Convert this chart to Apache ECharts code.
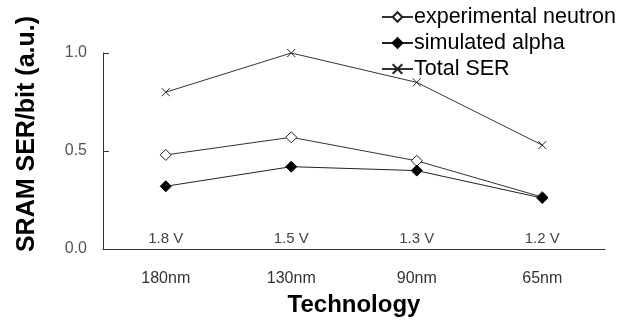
<!DOCTYPE html>
<html><head><meta charset="utf-8">
<script src="https://cdn.jsdelivr.net/npm/echarts@6/dist/echarts.min.js"></script>
<style>html,body{margin:0;padding:0;background:#fff}#c{width:618px;height:324px}</style>
</head><body><div id="c"></div>
<script>
const categories = ['180nm', '130nm', '90nm', '65nm'];
const voltages = ['1.8 V', '1.5 V', '1.3 V', '1.2 V'];
const neutron = [0.48, 0.57, 0.45, 0.265];
const alpha = [0.32, 0.42, 0.40, 0.26];
const total = [0.80, 1.00, 0.85, 0.53];
const yTicks = [0, 0.5, 1.0];

const font = 'Arial, "Liberation Sans", sans-serif';
const cross = 'path://M0,0L10,10M10,0L0,10';
const chart = echarts.init(document.getElementById('c'));
chart.setOption({
  animation: false,
  backgroundColor: '#fff',
  grid: { left: 103, right: 13, top: 53, bottom: 75 },
  legend: {
    orient: 'vertical', left: 381, top: 6, itemGap: 4,
    itemWidth: 31, itemHeight: 12, padding: 0,
    textStyle: { fontFamily: font, fontSize: 21.5, color: '#000', padding: [0, 0, 0, -4], lineHeight: 22 },
    data: ['experimental neutron', 'simulated alpha', 'Total SER']
  },
  xAxis: [{
    type: 'category', data: categories, boundaryGap: true,
    name: 'Technology', nameLocation: 'middle', nameGap: 44,
    nameTextStyle: { fontFamily: font, fontSize: 24, fontWeight: 'bold', color: '#000' },
    axisLine: { lineStyle: { color: '#333', width: 1 } },
    axisTick: { inside: true, length: 5, lineStyle: { color: '#333' } },
    axisLabel: { margin: 22, fontFamily: font, fontSize: 16, color: '#333' }
  }, {
    type: 'category', data: voltages, position: 'bottom', boundaryGap: true,
    axisLine: { show: false }, axisTick: { show: false },
    axisLabel: { inside: true, margin: 3, fontFamily: font, fontSize: 15, color: '#444' }
  }],
  yAxis: {
    type: 'value', min: yTicks[0], max: yTicks[yTicks.length - 1], interval: 0.5,
    name: 'SRAM SER/bit (a.u.)', nameLocation: 'middle', nameGap: 63,
    nameTextStyle: { fontFamily: font, fontSize: 25, fontWeight: 'bold', color: '#000', padding: [0, 0, 0, 34] },
    axisLine: { show: true, lineStyle: { color: '#333', width: 1 } },
    axisTick: { show: true, inside: true, length: 6, lineStyle: { color: '#333' } },
    splitLine: { show: false },
    axisLabel: { margin: 16, fontFamily: font, fontSize: 16, color: '#555',
      formatter: v => v.toFixed(1) }
  },
  series: [
    { name: 'experimental neutron', type: 'line', data: neutron,
      symbol: 'diamond', symbolSize: 11,
      lineStyle: { color: '#333', width: 1 },
      itemStyle: { color: '#fff', borderColor: '#222', borderWidth: 1 } },
    { name: 'simulated alpha', type: 'line', data: alpha,
      symbol: 'diamond', symbolSize: 11,
      lineStyle: { color: '#222', width: 1 },
      itemStyle: { color: '#000', borderColor: '#000', borderWidth: 1 } },
    { name: 'Total SER', type: 'line', data: total,
      symbol: cross, symbolSize: 8,
      lineStyle: { color: '#333', width: 1 },
      itemStyle: { color: 'none', borderColor: '#222', borderWidth: 1 } }
  ]
});
</script></body></html>
